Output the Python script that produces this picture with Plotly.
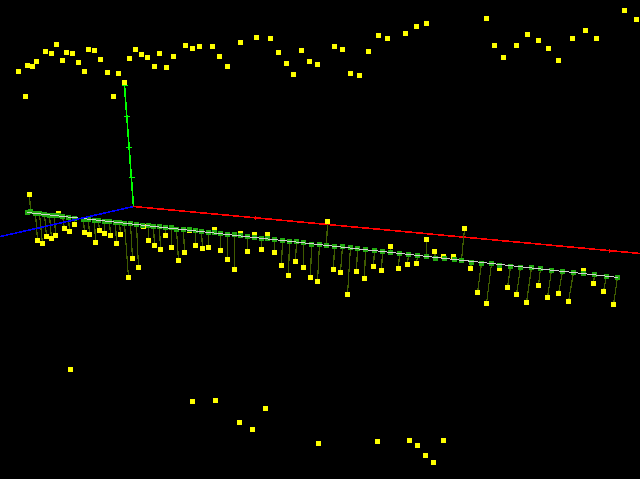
import plotly.graph_objects as go

# Far points, top of the scene
top_x = [18,27,32,36,45,51,56,62,66,72,78,84,88,94,100,107,118,124,113,25,129,135,141,147,154,159,166,173,185,192,199,212,219,227,240,256,270,278,286,293,301,309,317,
         334,342,350,359,368,378,387,405,416,426,486,494,503,516,527,538,548,558,572,585,596,624,636]
top_y = [71,65,66,61,51,53,44,60,52,53,62,71,49,50,59,72,73,82,96,96,58,49,54,57,66,53,67,56,45,48,46,46,56,66,42,37,38,52,63,74,50,61,64,
         46,49,73,75,51,35,38,33,26,23,18,45,57,45,34,40,48,60,38,30,38,10,19]

# Near points, bottom of the scene
low_x = [70,192,215,239,252,265,318,377,409,417,425,433,443]
low_y = [369,401,400,422,429,408,443,441,440,445,455,462,440]

# Points attached to the ground line by a stem
pt_x = [27,29,37,42,46,51,55,58,64,69,74,84,89,95,99,104,110,116,120,128,132,138,143,148,154,160,165,171,178,184,189,195,202,208,
        214,220,227,234,240,247,254,261,267,274,281,288,295,303,310,317,327,333,340,347,356,364,373,381,390,398,407,416,
        426,434,443,453,464,470,477,486,499,507,516,526,538,547,558,568,583,593,603,613]
pt_y = [212,194,240,243,236,238,235,213,228,231,224,232,234,242,230,233,235,243,234,277,258,267,226,240,245,249,235,247,260,252,230,245,248,247,
        229,250,259,269,233,251,234,249,234,252,265,275,261,267,277,281,221,269,272,294,271,278,266,270,246,268,264,263,
        239,251,256,256,228,268,292,303,268,287,294,302,285,297,293,301,270,283,291,304]
base_x = [27,30,35,39,44,49,54,58,62,68,74,83,88,94,98,104,109,115,119,124,130,136,142,148,153,159,165,171,176,183,189,195,201,208,
          214,220,227,234,240,247,254,261,267,274,282,289,296,303,311,319,326,334,342,350,357,365,374,382,390,399,408,417,
          426,435,444,454,461,471,481,491,499,510,520,531,540,551,562,573,583,594,606,617]
base_y = [212,211,213,213,214,215,215,215,216,217,218,219,219,220,220,221,221,222,222,223,223,224,225,225,226,226,227,227,229,229,229,230,231,232,
          232,233,234,234,235,236,237,238,238,239,240,241,241,242,244,244,245,246,246,247,248,249,250,251,252,253,254,255,
          256,258,258,259,260,262,263,263,265,266,267,267,268,270,271,272,273,274,276,277]

# Ground line and coordinate axes (end points)
ground_x = [27,618]
ground_y = [212,277]
red_x = [133,640]
red_y = [206,253]
blue_x = [133,0]
blue_y = [206,236]
green_x = [124,133]
green_y = [85,206]
green_tick_x = [124,126,128,131]
green_tick_y = [85,116,147,177]
red_tick_x = [255,609]
red_tick_y = [217,250]


def segments(x0, y0, x1, y1):
    xs, ys = [], []
    for a, b, c, d in zip(x0, y0, x1, y1):
        xs += [a, c, None]
        ys += [b, d, None]
    return xs, ys


def line(x, y, color, width):
    return go.Scatter(x=x, y=y, mode="lines", line=dict(color=color, width=width),
                      hoverinfo="skip", showlegend=False)


def squares(x, y, color, size):
    return go.Scatter(x=x, y=y, mode="markers", hoverinfo="skip", showlegend=False,
                      marker=dict(symbol="square", size=size, color=color, line=dict(width=0)))


fig = go.Figure()
fig.add_trace(line(red_x, red_y, "#ff0000", 1.6))
sx, sy = segments(red_tick_x, [v - 2 for v in red_tick_y], red_tick_x, [v + 2 for v in red_tick_y])
fig.add_trace(line(sx, sy, "#ff0000", 1))
fig.add_trace(line(green_x, green_y, "#00ff00", 1.6))
sx, sy = segments([v - 3 for v in green_tick_x], green_tick_y, [v + 3 for v in green_tick_x], green_tick_y)
fig.add_trace(line(sx, sy, "#00ff00", 1))
sx, sy = segments(pt_x, pt_y, base_x, base_y)
fig.add_trace(line(sx, sy, "#3f5c00", 1.2))
fig.add_trace(squares(top_x, top_y, "#ffff00", 5))
fig.add_trace(squares(low_x, low_y, "#ffff00", 5))
fig.add_trace(squares(pt_x, pt_y, "#ffff00", 5))
fig.add_trace(squares(base_x, base_y, "#22aa11", 5))
fig.add_trace(line(ground_x, ground_y, "#d0d0d0", 1))
fig.add_trace(line(blue_x, blue_y, "#0000ff", 1.6))

fig.update_layout(
    width=640, height=479,
    margin=dict(l=0, r=0, t=0, b=0, pad=0),
    paper_bgcolor="#000000", plot_bgcolor="#000000",
    showlegend=False, hovermode=False,
    xaxis=dict(range=[-0.5, 639.5], visible=False, fixedrange=True),
    yaxis=dict(range=[478.5, -0.5], visible=False, fixedrange=True),
)
fig.write_html("out.html", config={"displayModeBar": False},
               post_script="document.body.style.margin='0';document.body.style.background='#000';document.body.style.overflow='hidden';"
                           "var s=document.createElement('style');s.textContent='svg path{shape-rendering:crispEdges !important}';document.head.appendChild(s);")
